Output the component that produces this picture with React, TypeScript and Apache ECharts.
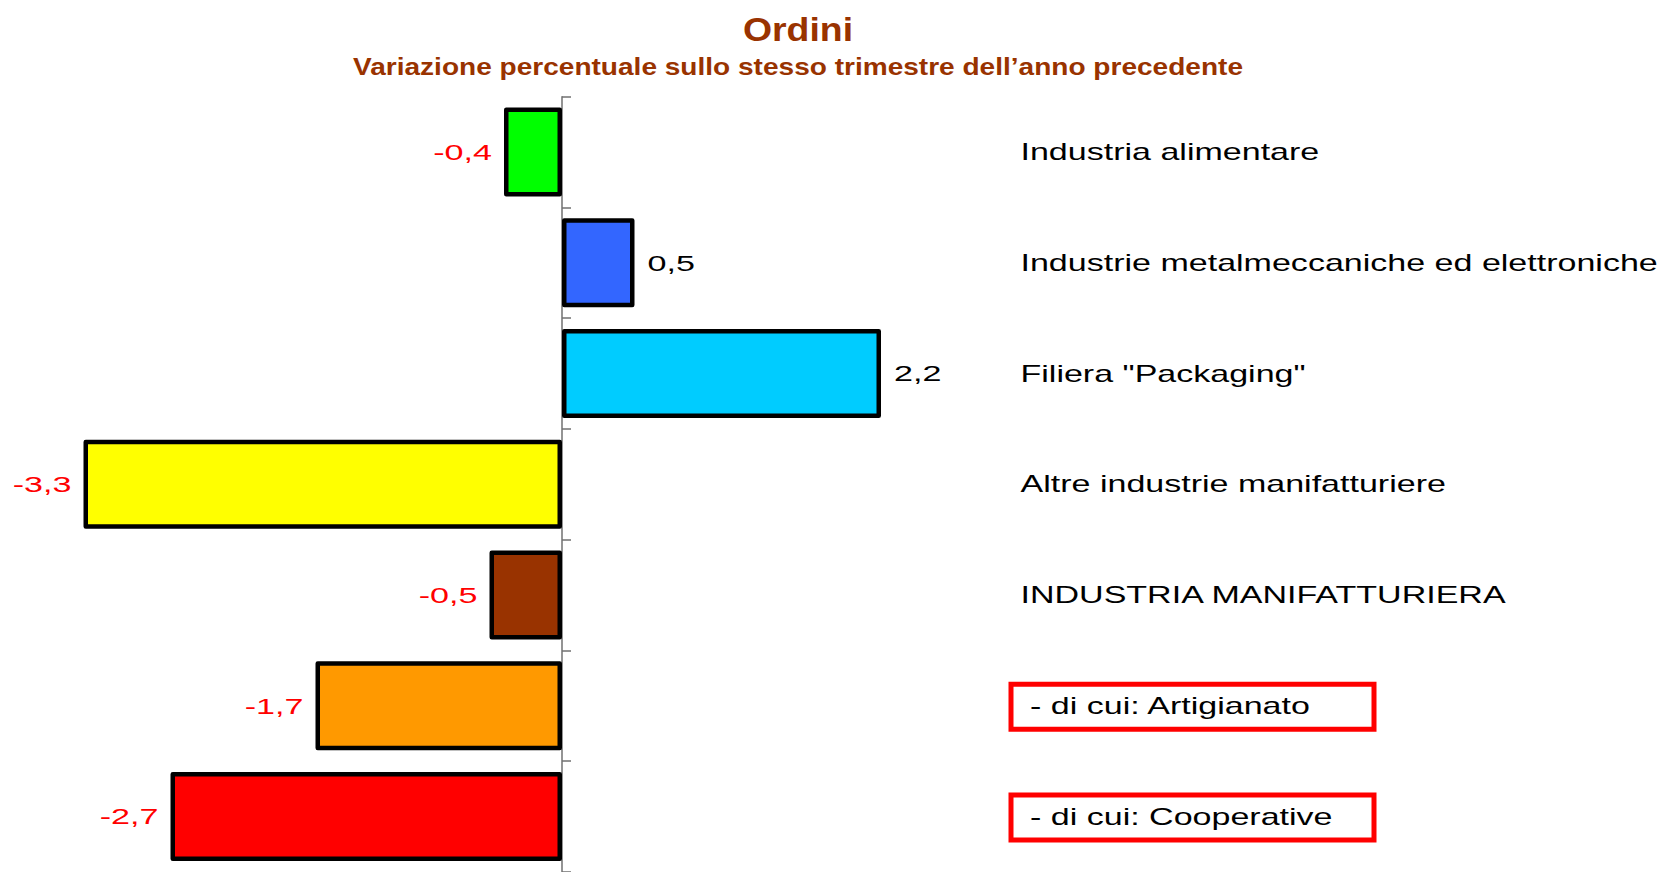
import React, { useEffect, useRef } from 'react';
import * as echarts from 'echarts';

const categories = [
  'Industria alimentare',
  'Industrie metalmeccaniche ed elettroniche',
  'Filiera "Packaging"',
  'Altre industrie manifatturiere',
  'INDUSTRIA MANIFATTURIERA',
  '- di cui: Artigianato',
  '- di cui: Cooperative',
];
const values = [-0.4, 0.5, 2.2, -3.3, -0.5, -1.7, -2.7];
const barColors = ['#00ff00', '#3366ff', '#00ccff', '#ffff00', '#993300', '#ff9900', '#ff0000'];
const boxed = [false, false, false, false, false, true, true];
const titleText = 'Ordini';
const subtitleText = 'Variazione percentuale sullo stesso trimestre dell\u2019anno precedente';
const xMin = -3.5;
const xMax = 3.5;

const FONT = 'Arial, "Liberation Sans", sans-serif';

function fmt(v: number): string {
  return v.toFixed(1).replace('.', ',');
}

export default function App() {
  const ref = useRef<HTMLDivElement>(null);
  useEffect(() => {
    if (!ref.current) return;
    document.body.style.margin = '0';
    const chart = echarts.init(ref.current, undefined, { renderer: 'svg' });
    const option: any = {
      animation: false,
      backgroundColor: '#ffffff',
      grid: { left: 54.5, right: 603.5, top: 96.7, height: 777.7, containLabel: false },
      xAxis: {
        type: 'value',
        min: xMin,
        max: xMax,
        axisLine: { show: false },
        axisTick: { show: false },
        axisLabel: { show: false },
        splitLine: { show: false },
      },
      yAxis: {
        type: 'category',
        inverse: true,
        data: categories,
        axisLine: { show: true, onZero: true, lineStyle: { color: '#707070', width: 1.5 } },
        axisTick: { show: true, inside: true, length: 9, lineStyle: { color: '#707070', width: 1.5 } },
        axisLabel: { show: false },
        splitLine: { show: false },
      },
      graphic: [
        {
          type: 'text',
          x: 798,
          y: 29.5,
          scaleX: 1.1,
          style: {
            text: titleText,
            fill: '#993300',
            fontSize: 34,
            fontWeight: 'bold',
            fontFamily: FONT,
            align: 'center',
            textAlign: 'center',
            verticalAlign: 'middle',
            textVerticalAlign: 'middle',
          },
        },
        {
          type: 'text',
          x: 798,
          y: 67,
          scaleX: 1.22,
          style: {
            text: subtitleText,
            fill: '#993300',
            fontSize: 23,
            fontWeight: 'bold',
            fontFamily: FONT,
            align: 'center',
            textAlign: 'center',
            verticalAlign: 'middle',
            textVerticalAlign: 'middle',
          },
        },
      ],
      series: [
        {
          type: 'bar',
          barWidth: 89,
          data: values.map((v, i) => ({ value: v, itemStyle: { color: barColors[i] } })),
          itemStyle: { borderColor: '#000000', borderWidth: 4.5, borderJoin: 'round' },
          z: 2,
        },
        {
          type: 'custom',
          clip: false,
          z: 3,
          data: values.map((v, i) => [v, i]),
          encode: { x: 0, y: 1 },
          renderItem: (params: any, api: any) => {
            const v = api.value(0);
            const idx = api.value(1);
            const p = api.coord([v, idx]);
            const neg = v < 0;
            return {
              type: 'text',
              x: p[0] + (neg ? -12 : 13),
              y: p[1],
              scaleX: 1.55,
              style: {
                text: fmt(v),
                fill: neg ? '#ff0000' : '#000000',
                fontSize: 22,
                fontFamily: FONT,
                align: neg ? 'right' : 'left',
                textAlign: neg ? 'right' : 'left',
                verticalAlign: 'middle',
                textVerticalAlign: 'middle',
              },
            };
          },
        },
        {
          type: 'custom',
          clip: false,
          z: 3,
          data: categories.map((c, i) => [0, i]),
          encode: { x: 0, y: 1 },
          renderItem: (params: any, api: any) => {
            const idx = api.value(1);
            const p = api.coord([0, idx]);
            const isBoxed = boxed[idx];
            const children: any[] = [];
            if (isBoxed) {
              children.push({
                type: 'rect',
                shape: { x: p[0] + 449, y: p[1] - 21.5, width: 363, height: 45 },
                style: { fill: 'none', stroke: '#ff0000', lineWidth: 5 },
              });
            }
            children.push({
              type: 'text',
              x: p[0] + (isBoxed ? 468 : 458.5),
              y: p[1],
              scaleX: 1.48,
              style: {
                text: categories[idx],
                fill: '#000000',
                fontSize: 23,
                fontFamily: FONT,
                align: 'left',
                textAlign: 'left',
                verticalAlign: 'middle',
                textVerticalAlign: 'middle',
              },
            });
            return { type: 'group', children };
          },
        },
      ],
    };
    chart.setOption(option);
    return () => {
      chart.dispose();
    };
  }, []);
  return (
    <div
      ref={ref}
      style={{ position: 'fixed', left: 0, top: 0, width: 1673, height: 872, background: '#fff' }}
    />
  );
}
